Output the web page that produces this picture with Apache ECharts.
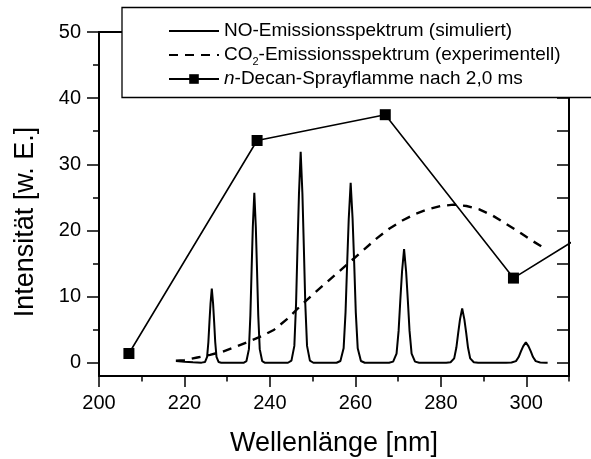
<!DOCTYPE html>
<html>
<head>
<meta charset="utf-8">
<script src="https://cdn.jsdelivr.net/npm/echarts@6/dist/echarts.min.js"></script>
<style>
html,body{margin:0;padding:0;background:#fff;}
#chart{width:591px;height:459px;}
</style>
</head>
<body>
<div id="chart"></div>
<script>
// ---- data ----
const seriesNames = [
  'NO-Emissionsspektrum (simuliert)',
  'CO2-Emissionsspektrum (experimentell)',
  'n-Decan-Sprayflamme nach 2,0 ms'
];
const noSpectrum = [
  [218.0,0.25],[220.0,0.15],[222.0,0.08],[224.0,0.02],
  [224.2,0],[224.8,0.11],[225.3,0.9],[225.6,3.14],[225.85,6.16],[226.1,8.96],[226.4,11.2],[226.7,8.96],[226.95,6.16],[227.2,3.14],[227.5,0.9],[228.0,0.11],[228.6,0],
  [233.82,0],[234.51,0.26],[235.09,2.06],[235.43,7.2],[235.72,14.14],[236.0,20.56],[236.35,25.7],[236.7,20.56],[236.98,14.14],[237.27,7.2],[237.62,2.06],[238.19,0.26],[238.88,0],
  [244.23,0],[245.04,0.32],[245.72,2.55],[246.12,8.93],[246.46,17.55],[246.8,25.52],[247.2,31.9],[247.61,25.52],[247.94,17.55],[248.28,8.93],[248.69,2.55],[249.36,0.32],[250.17,0],
  [255.6,0],[256.5,0.27],[257.25,2.18],[257.7,7.62],[258.08,14.96],[258.45,21.76],[258.9,27.2],[259.35,21.76],[259.73,14.96],[260.1,7.62],[260.55,2.18],[261.3,0.27],[262.2,0],
  [267.88,0],[268.84,0.17],[269.64,1.38],[270.12,4.82],[270.52,9.46],[270.92,13.76],[271.4,17.2],[271.88,13.76],[272.28,9.46],[272.68,4.82],[273.16,1.38],[273.96,0.17],[274.92,0],
  [281.26,0],[282.28,0.08],[283.13,0.66],[283.64,2.3],[284.07,4.51],[284.49,6.56],[285.0,8.2],[285.51,6.56],[285.94,4.51],[286.36,2.3],[286.87,0.66],[287.72,0.08],[288.74,0],
  [295.28,0],[296.54,0.03],[297.59,0.25],[298.22,0.87],[298.75,1.71],[299.27,2.48],[299.9,3.1],[300.53,2.48],[301.06,1.71],[301.58,0.87],[302.21,0.25],[303.26,0.03],[304.52,0],
  [305.0,0]
];
const co2Spectrum = [
  [218,0.3],[220,0.4],[223,0.8],[226,1.2],[229,1.7],[232,2.4],[235,3.2],[238,4.0],
  [241,5.0],[244,6.6],[247,8.5],[250,10.3],[253,12.0],[256,13.7],[259,15.4],[262,17.1],
  [265,18.8],[268,20.3],[271,21.5],[274,22.5],[277,23.2],[280,23.7],[283,23.9],[286,23.7],
  [289,23.2],[292,22.3],[295,21.1],[298,19.9],[301,18.6],[303.5,17.6]
];
const decanX = [207, 237, 267, 297, 327];
const decanY = [1.4, 33.6, 37.5, 12.8, 24.8];

const xTickLabels = [200, 220, 240, 260, 280, 300];
const yTickLabels = [0, 10, 20, 30, 40, 50];
const yMinorTicks = [5, 15, 25, 35, 45];
const yRightTicks = [0, 5, 10, 15, 20, 25, 30, 35, 40, 45, 50];

// ---- chart ----
const FONT = "'Liberation Sans', Arial, Helvetica, sans-serif";
const chart = echarts.init(document.getElementById('chart'), null, {renderer: 'canvas'});
const axisLineStyle = {color: '#000', width: 2};
const tickStyle = {color: '#000', width: 1.5};

const option = {
  animation: false,
  backgroundColor: '#fff',
  grid: {left: 99, top: 32, right: 22, bottom: 83, containLabel: false, outerBoundsMode: 'none'},
  xAxis: [
    {
      type: 'value', position: 'bottom', min: 200, max: 310, interval: 10,
      axisLine: {show: true, onZero: false, lineStyle: axisLineStyle},
      axisTick: {show: true, length: 5.5, lineStyle: tickStyle},
      axisLabel: {customValues: xTickLabels, margin: 17, fontSize: 20, color: '#000', fontFamily: FONT},
      splitLine: {show: false},
      name: 'Wellenlänge [nm]', nameLocation: 'middle', nameGap: 54,
      nameTextStyle: {fontSize: 27, color: '#000', fontFamily: FONT}
    },
    {
      type: 'value', position: 'bottom', min: 200, max: 310,
      axisLine: {show: false, onZero: false},
      axisTick: {show: true, customValues: xTickLabels, length: 11, lineStyle: tickStyle},
      axisLabel: {show: false},
      splitLine: {show: false}
    },
    {
      type: 'value', position: 'top', min: 200, max: 310,
      axisLine: {show: true, onZero: false, lineStyle: axisLineStyle},
      axisTick: {show: false},
      axisLabel: {show: false},
      splitLine: {show: false}
    }
  ],
  yAxis: [
    {
      type: 'value', position: 'left', min: -2, max: 50,
      axisLine: {show: true, onZero: false, lineStyle: axisLineStyle},
      axisTick: {show: true, customValues: yTickLabels, length: 12, lineStyle: tickStyle},
      axisLabel: {customValues: yTickLabels, margin: 18, fontSize: 20, color: '#000', fontFamily: FONT},
      splitLine: {show: false},
      name: 'Intensität [w. E.]', nameLocation: 'middle', nameGap: 60,
      nameTextStyle: {fontSize: 27, color: '#000', fontFamily: FONT, padding: [0, 36, 0, 0]}
    },
    {
      type: 'value', position: 'left', min: -2, max: 50,
      axisLine: {show: false, onZero: false},
      axisTick: {show: true, customValues: yMinorTicks, length: 6, lineStyle: tickStyle},
      axisLabel: {show: false},
      splitLine: {show: false}
    },
    {
      type: 'value', position: 'right', min: -2, max: 50,
      axisLine: {show: true, onZero: false, lineStyle: axisLineStyle},
      axisTick: {show: true, inside: true, customValues: yRightTicks, length: 12, lineStyle: tickStyle},
      axisLabel: {show: false},
      splitLine: {show: false}
    }
  ],
  legend: {
    show: true, orient: 'vertical', left: 168, top: 19, padding: 0,
    itemWidth: 50, itemHeight: 12, itemGap: 0, z: 10,
    data: [
      {name: seriesNames[0], itemStyle: {opacity: 0, borderWidth: 0}},
      {name: seriesNames[1], itemStyle: {opacity: 0, borderWidth: 0}},
      {name: seriesNames[2]}
    ],
    formatter: function (name) {
      if (name.indexOf('CO2') === 0) return 'CO{sub|2}-Emissionsspektrum (experimentell)';
      if (name.indexOf('n-') === 0) return '{it|n}-Decan-Sprayflamme nach 2,0 ms';
      return name;
    },
    textStyle: {
      fontSize: 19, color: '#000', fontFamily: FONT, lineHeight: 24,
      rich: {
        sub: {fontSize: 11, color: '#000', fontFamily: FONT, lineHeight: 11, verticalAlign: 'bottom'},
        it: {fontSize: 19, color: '#000', fontFamily: FONT, fontStyle: 'italic', lineHeight: 24}
      }
    }
  },
  graphic: [
    {
      type: 'rect', z: 5,
      shape: {x: 122, y: 7.5, width: 500, height: 90},
      style: {fill: '#fff', stroke: '#000', lineWidth: 1.3}
    }
  ],
  series: [
    {
      name: seriesNames[0], type: 'line', xAxisIndex: 0, yAxisIndex: 0,
      data: noSpectrum, symbol: 'none', clip: true,
      lineStyle: {color: '#000', width: 2},
      itemStyle: {color: '#000'}
    },
    {
      name: seriesNames[1], type: 'line', xAxisIndex: 0, yAxisIndex: 0,
      data: co2Spectrum, symbol: 'none', clip: true,
      lineStyle: {color: '#000', width: 2.4, type: [9, 7]},
      itemStyle: {color: '#000'}
    },
    {
      name: seriesNames[2], type: 'line', xAxisIndex: 0, yAxisIndex: 0,
      data: decanX.map((x, i) => [x, decanY[i]]),
      symbol: 'rect', symbolSize: 11, showAllSymbol: true, clip: true,
      lineStyle: {color: '#000', width: 1.6},
      itemStyle: {color: '#000'}
    }
  ]
};
chart.setOption(option);
</script>
</body>
</html>
